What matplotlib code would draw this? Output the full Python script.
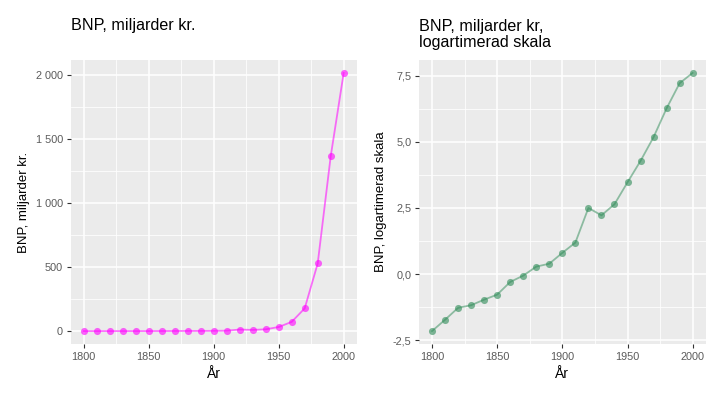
import matplotlib
matplotlib.use("Agg")
import matplotlib.pyplot as plt
from matplotlib.ticker import FuncFormatter, MultipleLocator

plt.rcParams['font.family'] = ['Liberation Sans', 'DejaVu Sans']

years = [1800, 1810, 1820, 1830, 1840, 1850, 1860, 1870, 1880, 1890, 1900,
         1910, 1920, 1930, 1940, 1950, 1960, 1970, 1980, 1990, 2000]
bnp = [0.12, 0.18, 0.28, 0.31, 0.38, 0.46, 0.74, 0.94, 1.32, 1.48, 2.23,
       3.29, 12.2, 9.2, 14.0, 32.1, 72.2, 177.7, 528.5, 1366.0, 2018.0]
bnp_log = [-2.16, -1.73, -1.28, -1.18, -0.97, -0.78, -0.30, -0.06, 0.28, 0.39, 0.80,
           1.19, 2.50, 2.22, 2.64, 3.47, 4.28, 5.18, 6.27, 7.22, 7.61]

x_ticks = [1800, 1850, 1900, 1950, 2000]
left_yticks = [0, 500, 1000, 1500, 2000]
right_yticks = [-2.5, 0.0, 2.5, 5.0, 7.5]

W, H = 727, 400
fig = plt.figure(figsize=(W / 100, H / 100), dpi=100)
fig.patch.set_facecolor('white')

def style(ax):
    ax.set_facecolor('#EBEBEB')
    for s in ax.spines.values():
        s.set_visible(False)
    ax.grid(which='major', color='white', linewidth=1.1)
    ax.grid(which='minor', color='white', linewidth=0.55)
    ax.set_axisbelow(True)
    ax.tick_params(which='major', length=3, width=0.8, color='#333333',
                   labelsize=7.8, labelcolor='#5A5A5A', pad=2.5)
    ax.tick_params(which='minor', length=0)

def expand(vals):
    lo, hi = min(vals), max(vals)
    d = (hi - lo) * 0.05
    return lo - d, hi + d

# Left panel
ax1 = fig.add_axes([70.7 / W, 1 - 344 / H, (356.7 - 70.7) / W, (344 - 60) / H])
style(ax1)
ax1.plot(years, bnp, color='#FF00FF', alpha=0.55, linewidth=1.3, zorder=3)
ax1.scatter(years, bnp, s=26, color='#FF00FF', alpha=0.6, linewidths=0, zorder=4)
ax1.set_xlim(*expand(years))
ax1.set_ylim(*expand(bnp))
ax1.set_xticks(x_ticks)
ax1.xaxis.set_minor_locator(MultipleLocator(25))
ax1.set_yticks(left_yticks)
ax1.yaxis.set_minor_locator(MultipleLocator(250))
ax1.yaxis.set_major_formatter(FuncFormatter(lambda v, p: f"{int(v):,}".replace(",", " ")))
ax1.set_xlabel('År', fontsize=10, labelpad=4)
ax1.set_ylabel('BNP, miljarder kr.', fontsize=9.5, labelpad=4)
fig.text(70.7 / W, 1 - 30 / H, 'BNP, miljarder kr.', fontsize=11.6, ha='left', va='baseline')

# Right panel
ax2 = fig.add_axes([419 / W, 1 - 344 / H, (705.7 - 419) / W, (344 - 60) / H])
style(ax2)
ax2.plot(years, bnp_log, color='#2E8B57', alpha=0.5, linewidth=1.3, zorder=3)
ax2.scatter(years, bnp_log, s=26, color='#2E8B57', alpha=0.6, linewidths=0, zorder=4)
ax2.set_xlim(*expand(years))
ax2.set_ylim(*expand(bnp_log))
ax2.set_xticks(x_ticks)
ax2.xaxis.set_minor_locator(MultipleLocator(25))
ax2.set_yticks(right_yticks)
ax2.yaxis.set_minor_locator(MultipleLocator(1.25))
ax2.yaxis.set_major_formatter(FuncFormatter(lambda v, p: f"{v:.1f}".replace(".", ",")))
ax2.set_xlabel('År', fontsize=10, labelpad=4)
ax2.set_ylabel('BNP, logartimerad skala', fontsize=9.5, labelpad=4)
fig.text(419 / W, 1 - 47 / H, 'BNP, miljarder kr,\nlogartimerad skala', fontsize=11.6,
         ha='left', va='baseline', linespacing=1.05)

fig.savefig('out.png', dpi=100, facecolor='white')
